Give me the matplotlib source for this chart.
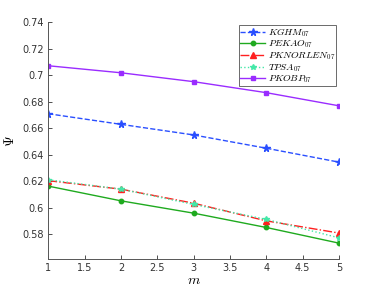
import matplotlib
matplotlib.use("Agg")
import matplotlib.pyplot as plt

# values
m = [1, 2, 3, 4, 5]
kghm = [0.671, 0.663, 0.655, 0.645, 0.6345]
pekao = [0.6164, 0.6053, 0.596, 0.5852, 0.5734]
pknorlen = [0.6205, 0.6141, 0.6035, 0.5902, 0.581]
tpsa = [0.6212, 0.6141, 0.6026, 0.5913, 0.5774]
pkobp = [0.7072, 0.7019, 0.6952, 0.6869, 0.677]

plt.rcParams["mathtext.fontset"] = "cm"

fig = plt.figure(figsize=(3.74, 2.93), dpi=100)
ax = fig.add_axes([0.129, 0.116, 0.777, 0.808])

ax.plot(m, kghm, "--", color="#2a4fff", marker="*", ms=5.5, lw=1.0, label=r"$KGHM_{07}$")
ax.plot(m, pekao, "-", color="#1faa1f", marker="o", ms=3.2, lw=1.0, label=r"$PEKAO_{07}$")
ax.plot(m, pknorlen, "-.", color="#ff2020", marker="^", ms=4.2, lw=1.0, label=r"$PKNORLEN_{07}$")
ax.plot(m, tpsa, ":", color="#44e8a8", marker="*", ms=3.8, lw=1.0, label=r"$TPSA_{07}$")
ax.plot(m, pkobp, "-", color="#9a2cff", marker="s", ms=3.2, lw=1.0, label=r"$PKOBP_{07}$")

ax.set_xlim(1, 5)
ax.set_ylim(0.5614, 0.74)
ax.set_xticks([1, 1.5, 2, 2.5, 3, 3.5, 4, 4.5, 5])
ax.set_xticklabels(["1", "1.5", "2", "2.5", "3", "3.5", "4", "4.5", "5"])
ax.set_yticks([0.58, 0.6, 0.62, 0.64, 0.66, 0.68, 0.7, 0.72, 0.74])
ax.set_yticklabels(["0.58", "0.6", "0.62", "0.64", "0.66", "0.68", "0.7", "0.72", "0.74"])
ax.tick_params(direction="in", length=3, width=0.6, labelsize=7, colors="#333333", pad=3)
for side in ("top", "right"):
    ax.spines[side].set_visible(False)
for side in ("left", "bottom"):
    ax.spines[side].set_color("#555555")
    ax.spines[side].set_linewidth(0.7)

ax.set_xlabel(r"$m$", fontsize=10, labelpad=0)
ax.set_ylabel(r"$\Psi$", fontsize=10, labelpad=4, rotation=90)

leg = ax.legend(loc="upper right", bbox_to_anchor=(336 / 374, 1 - 25 / 293),
                bbox_transform=fig.transFigure, fontsize=7, frameon=True,
                fancybox=False, handlelength=2.6, handletextpad=0.25,
                labelspacing=0.0, borderpad=0.1, borderaxespad=0)
leg.get_frame().set_edgecolor("#444444")
leg.get_frame().set_linewidth(0.7)

fig.savefig("out.png", dpi=100)
